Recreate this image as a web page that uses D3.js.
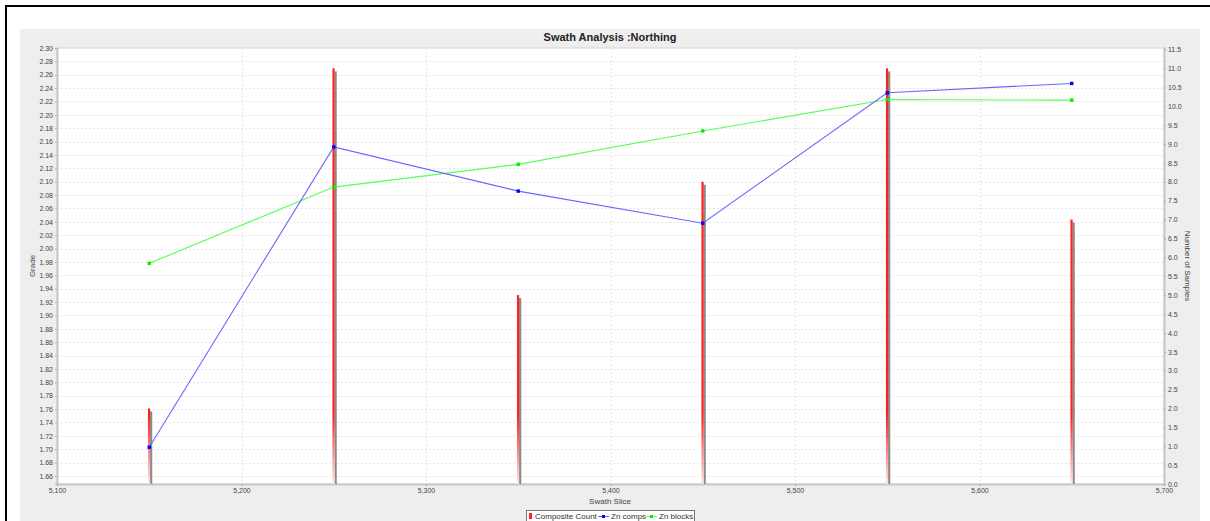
<!DOCTYPE html>
<html><head><meta charset="utf-8">
<script src="https://cdn.jsdelivr.net/npm/d3@7"></script>
<style>
html,body{margin:0;padding:0;background:#fff;}
svg{display:block;font-family:"Liberation Sans",Arial,sans-serif;}
</style></head>
<body>
<svg id="c" width="1210" height="521"></svg>
<script>
// ---- data ----
const slices = [5150, 5250, 5350, 5450, 5550, 5650];
const compositeCount = [2, 11, 5, 8, 11, 7];
const znComps = [1.703, 2.152, 2.086, 2.038, 2.233, 2.247];
const znBlocks = [1.978, 2.092, 2.126, 2.176, 2.223, 2.222];
const gradeTicks = d3.range(1.66, 2.3001, 0.02);
const countTicks = d3.range(0, 11.5001, 0.5);
const sliceTicks = [5100, 5200, 5300, 5400, 5500, 5600, 5700];
const titleText = "Swath Analysis :Northing";
const xLabel = "Swath Slice", yLabel = "Grade", y2Label = "Number of Samples";
const legendItems = ["Composite Count", "Zn comps", "Zn blocks"];

// ---- layout ----
const svg = d3.select("#c");
const L = 57, R = 1164, T = 48, B = 484;
const x = d3.scaleLinear().domain([5100, 5700]).range([L, R]);
const y = d3.scaleLinear().domain([1.648, 2.30]).range([B, T]);
const y2 = d3.scaleLinear().domain([0, 11.54]).range([B, T]);

// outer frame
svg.append("rect").attr("x", 20).attr("y", 29).attr("width", 1180).attr("height", 500).attr("fill", "#eeeeee");
svg.append("line").attr("x1", 5).attr("x2", 1210).attr("y1", 6).attr("y2", 6).attr("stroke", "#000").attr("stroke-width", 2);
svg.append("line").attr("x1", 6).attr("x2", 6).attr("y1", 5).attr("y2", 521).attr("stroke", "#000").attr("stroke-width", 2);

// plot area
svg.append("rect").attr("x", L).attr("y", T).attr("width", R - L).attr("height", B - T)
  .attr("fill", "#fff").attr("stroke", "#d6d6d6").attr("stroke-width", 1);

// gridlines
const g = svg.append("g");
g.selectAll("line.h").data(gradeTicks).join("line")
  .attr("x1", L).attr("x2", R).attr("y1", d => Math.round(y(d)) + 0.5).attr("y2", d => Math.round(y(d)) + 0.5)
  .attr("stroke", "#e6e6e6").attr("stroke-dasharray", "2,2");
g.selectAll("line.v").data(sliceTicks.slice(1, -1)).join("line")
  .attr("y1", T).attr("y2", B).attr("x1", d => Math.round(x(d)) + 0.5).attr("x2", d => Math.round(x(d)) + 0.5)
  .attr("stroke", "#e6e6e6").attr("stroke-dasharray", "2,2");

// axes
const fmt2 = d3.format(".2f"), fmt1 = d3.format(".1f"), fmtX = d3.format(",");
const axL = svg.append("g").attr("transform", `translate(${L},0)`)
  .call(d3.axisLeft(y).tickValues(gradeTicks).tickFormat(fmt2).tickSize(2).tickPadding(2));
const axR = svg.append("g").attr("transform", `translate(${R},0)`)
  .call(d3.axisRight(y2).tickValues(countTicks).tickFormat(fmt1).tickSize(2).tickPadding(2));
const axB = svg.append("g").attr("transform", `translate(0,${B})`)
  .call(d3.axisBottom(x).tickValues(sliceTicks).tickFormat(fmtX).tickSize(2).tickPadding(2));
[axL, axR, axB].forEach(a => {
  a.select(".domain").attr("stroke", "#c8c8c8").attr("stroke-width", 2);
  a.selectAll(".tick line").attr("stroke", "#b0b0b0");
  a.selectAll("text").attr("font-size", 7).attr("fill", "#444").attr("font-family", "Liberation Sans, Arial, sans-serif");
});

// bars
const defs = svg.append("defs");
const grad = defs.append("linearGradient").attr("id", "rg").attr("gradientUnits", "userSpaceOnUse")
  .attr("x1", 0).attr("x2", 0).attr("y1", 415).attr("y2", B);
grad.append("stop").attr("offset", 0).attr("stop-color", "#ff2020");
grad.append("stop").attr("offset", 1).attr("stop-color", "#ffe4e4");
const bars = svg.append("g");
bars.selectAll("rect.sh").data(slices).join("rect")
  .attr("x", d => x(d) + 0.8).attr("y", (d, i) => y2(compositeCount[i]) + 3)
  .attr("width", 2.2).attr("height", (d, i) => B - y2(compositeCount[i]) - 3)
  .attr("fill", "#8a8a8a");
bars.selectAll("rect.b").data(slices).join("rect")
  .attr("x", d => x(d) - 1.3).attr("y", (d, i) => y2(compositeCount[i]))
  .attr("width", 2.2).attr("height", (d, i) => B - y2(compositeCount[i]))
  .attr("fill", "url(#rg)");

// lines
function series(vals, color, lineColor) {
  const pts = slices.map((s, i) => [x(s), y(vals[i])]);
  svg.append("path").attr("d", d3.line()(pts)).attr("fill", "none").attr("stroke", lineColor).attr("stroke-width", 1.1);
  svg.append("g").selectAll("rect").data(pts).join("rect")
    .attr("x", d => d[0] - 1.7).attr("y", d => d[1] - 1.7).attr("width", 3.4).attr("height", 3.4).attr("fill", color);
}
series(znBlocks, "#00ee00", "#55ff55");
series(znComps, "#0000ff", "#6666ff");

// title & labels
svg.append("text").attr("x", 610).attr("y", 41).attr("text-anchor", "middle")
  .attr("font-size", 11).attr("font-weight", "bold").attr("fill", "#222").text(titleText);
svg.append("text").attr("x", 610).attr("y", 504).attr("text-anchor", "middle")
  .attr("font-size", 8).attr("fill", "#444").text(xLabel);
svg.append("text").attr("transform", "translate(35,266) rotate(-90)").attr("text-anchor", "middle")
  .attr("font-size", 8).attr("fill", "#444").text(yLabel);
svg.append("text").attr("transform", "translate(1185,266) rotate(90)").attr("text-anchor", "middle")
  .attr("font-size", 8).attr("fill", "#444").text(y2Label);

// legend
const lg = svg.append("g");
lg.append("rect").attr("x", 526.5).attr("y", 510.5).attr("width", 168).attr("height", 16)
  .attr("fill", "#fff").attr("stroke", "#777");
lg.append("rect").attr("x", 529).attr("y", 513).attr("width", 3).attr("height", 6).attr("fill", "#ff2020");
lg.append("text").attr("x", 535).attr("y", 519).attr("font-size", 8).attr("fill", "#333").text(legendItems[0]);
lg.append("line").attr("x1", 598).attr("x2", 609).attr("y1", 516.5).attr("y2", 516.5).attr("stroke", "#6666ff");
lg.append("rect").attr("x", 602).attr("y", 515).attr("width", 3).attr("height", 3).attr("fill", "#0000ff");
lg.append("text").attr("x", 611).attr("y", 519).attr("font-size", 8).attr("fill", "#333").text(legendItems[1]);
lg.append("line").attr("x1", 646).attr("x2", 657).attr("y1", 516.5).attr("y2", 516.5).attr("stroke", "#55ff55");
lg.append("rect").attr("x", 650).attr("y", 515).attr("width", 3).attr("height", 3).attr("fill", "#00ee00");
lg.append("text").attr("x", 659).attr("y", 519).attr("font-size", 8).attr("fill", "#333").text(legendItems[2]);
</script>
</body></html>
